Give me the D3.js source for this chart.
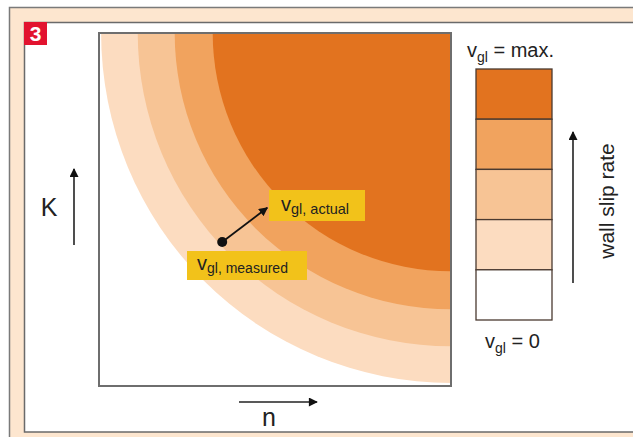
<!DOCTYPE html>
<html>
<head>
<meta charset="utf-8">
<script src="https://cdn.jsdelivr.net/npm/d3@7/dist/d3.min.js"></script>
<style>
  html, body { margin: 0; padding: 0; background: #fff; }
  svg { display: block; font-family: "Liberation Sans", Arial, Helvetica, sans-serif; }
</style>
</head>
<body>
<svg id="chart" width="633" height="437"></svg>
<script>
// Wall slip rate bands in the (n, K) plane: quarter circles around the top-right corner.
// Radii are fractions of the axis span, outermost first.
const bandRadii  = [0.994, 0.890, 0.785, 0.677];
const bandColors = ["#fcdcc0", "#f7c495", "#f1a35e", "#e2731f"];

// Legend cells, top (max.) to bottom (0)
const legendColors = ["#e2731f", "#f1a35e", "#f7c495", "#fcdcc0", "#ffffff"];

// Measured vs. actual operating point (n, K in axis units)
const measuredPt = { n: 0.350, K: 0.408 };
const actualPt   = { n: 0.478, K: 0.505 };

const svg = d3.select("#chart");
const defs = svg.append("defs");

// Outer frame
svg.append("rect").attr("x", 9.5).attr("y", 7.5).attr("width", 640).attr("height", 440)
  .attr("fill", "#fde6cf").attr("stroke", "#7a7a7a").attr("stroke-width", 1.5);
svg.append("rect").attr("x", 24.5).attr("y", 22.5).attr("width", 620).attr("height", 409.5)
  .attr("fill", "#ffffff").attr("stroke", "#6a6a6a").attr("stroke-width", 1.5);

// Figure number badge
svg.append("rect").attr("x", 24).attr("y", 22).attr("width", 23).attr("height", 23).attr("fill", "#e2132f");
svg.append("text").attr("x", 35.5).attr("y", 41).attr("text-anchor", "middle")
  .attr("fill", "#fff").attr("font-weight", "bold").attr("font-size", 21).text("3");

// Plot area
const plotL = 99, plotR = 451, plotT = 33, plotB = 386;
const x = d3.scaleLinear().domain([0, 1]).range([plotL, plotR]);
const y = d3.scaleLinear().domain([0, 1]).range([plotB, plotT]);

defs.append("clipPath").attr("id", "plotClip")
  .append("rect").attr("x", plotL).attr("y", plotT).attr("width", plotR - plotL).attr("height", plotB - plotT);

const bands = svg.append("g").attr("clip-path", "url(#plotClip)");
bands.selectAll("circle").data(bandRadii).join("circle")
  .attr("cx", x(1)).attr("cy", y(1))
  .attr("r", d => x(d) - x(0))
  .attr("fill", (d, i) => bandColors[i]);

svg.append("rect").attr("x", plotL).attr("y", plotT).attr("width", plotR - plotL).attr("height", plotB - plotT)
  .attr("fill", "none").attr("stroke", "#6e6e6e").attr("stroke-width", 2);

// Arrow markers
defs.append("marker").attr("id", "head").attr("viewBox", "0 0 10 10")
  .attr("refX", 9).attr("refY", 5).attr("markerWidth", 9).attr("markerHeight", 9)
  .attr("markerUnits", "userSpaceOnUse").attr("orient", "auto")
  .append("path").attr("d", "M0,0 L10,5 L0,10 z").attr("fill", "#111");
defs.append("marker").attr("id", "headBig").attr("viewBox", "0 0 10 10")
  .attr("refX", 9).attr("refY", 5).attr("markerWidth", 10).attr("markerHeight", 9)
  .attr("markerUnits", "userSpaceOnUse").attr("orient", "auto")
  .append("path").attr("d", "M0,0 L10,5 L0,10 z").attr("fill", "#111");

// Axis direction arrows and labels
svg.append("line").attr("x1", 74).attr("y1", 245).attr("x2", 74).attr("y2", 169)
  .attr("stroke", "#222").attr("stroke-width", 1.6).attr("marker-end", "url(#headBig)");
svg.append("text").attr("x", 49).attr("y", 216).attr("text-anchor", "middle")
  .attr("font-size", 25).attr("fill", "#222").text("K");

svg.append("line").attr("x1", 239).attr("y1", 402).attr("x2", 317).attr("y2", 402)
  .attr("stroke", "#222").attr("stroke-width", 1.6).attr("marker-end", "url(#headBig)");
svg.append("text").attr("x", 269).attr("y", 426).attr("text-anchor", "middle")
  .attr("font-size", 25).attr("fill", "#222").text("n");

// Measured -> actual annotation
const p0 = [x(measuredPt.n), y(measuredPt.K)], p1 = [x(actualPt.n), y(actualPt.K)];
svg.append("line").attr("x1", p0[0]).attr("y1", p0[1]).attr("x2", p1[0]).attr("y2", p1[1])
  .attr("stroke", "#111").attr("stroke-width", 1.8).attr("marker-end", "url(#head)");
svg.append("circle").attr("cx", p0[0]).attr("cy", p0[1]).attr("r", 5).attr("fill", "#111");

function vLabel(g, xPos, yPos, sub, big, small) {
  const t = g.append("text").attr("x", xPos).attr("y", yPos).attr("fill", "#222");
  t.append("tspan").attr("font-size", big).text("v");
  t.append("tspan").attr("font-size", small).attr("dy", 3).text(sub);
  return t;
}

const ann = svg.append("g");
ann.append("rect").attr("x", 269).attr("y", 190).attr("width", 96).attr("height", 31).attr("fill", "#f2c21a");
vLabel(ann, 281, 211, "gl, actual", 20, 14.5);
ann.append("rect").attr("x", 187).attr("y", 251).attr("width", 120).attr("height", 29).attr("fill", "#f2c21a");
vLabel(ann, 197, 270, "gl, measured", 20, 14);

// Legend scale
const ly = d3.scaleBand().domain(d3.range(legendColors.length)).range([69, 320]);
svg.append("g").selectAll("rect").data(legendColors).join("rect")
  .attr("x", 476).attr("y", (d, i) => ly(i)).attr("width", 76).attr("height", ly.bandwidth())
  .attr("fill", d => d).attr("stroke", "#4a3a30").attr("stroke-width", 1.3);

const lmax = svg.append("text").attr("x", 467).attr("y", 57).attr("fill", "#222").attr("font-size", 20);
lmax.append("tspan").text("v");
lmax.append("tspan").attr("font-size", 14).attr("dy", 5).text("gl");
lmax.append("tspan").attr("dy", -5).text(" = max.");

const lzero = svg.append("text").attr("x", 485).attr("y", 348).attr("fill", "#222").attr("font-size", 20);
lzero.append("tspan").text("v");
lzero.append("tspan").attr("font-size", 14).attr("dy", 5).text("gl");
lzero.append("tspan").attr("dy", -5).text(" = 0");

// Wall slip rate arrow
svg.append("line").attr("x1", 573).attr("y1", 283).attr("x2", 573).attr("y2", 132)
  .attr("stroke", "#222").attr("stroke-width", 1.6).attr("marker-end", "url(#headBig)");
svg.append("text").attr("transform", "translate(614,201) rotate(-90)")
  .attr("text-anchor", "middle").attr("font-size", 21).attr("fill", "#222").text("wall slip rate");
</script>
</body>
</html>
